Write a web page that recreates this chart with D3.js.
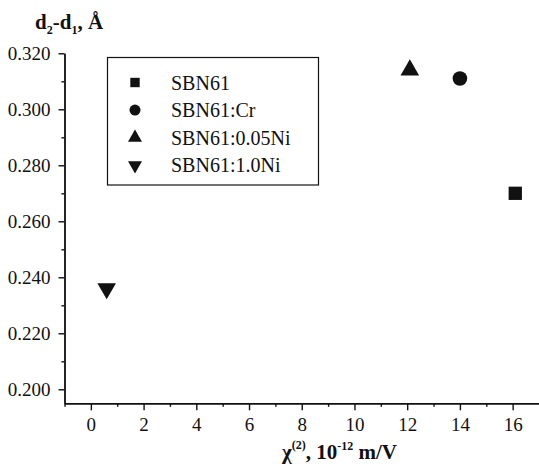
<!DOCTYPE html>
<html>
<head>
<meta charset="utf-8">
<script src="https://cdn.jsdelivr.net/npm/d3@7"></script>
<style>
  body { margin: 0; background: #fff; }
  svg text { font-family: 'Liberation Serif', 'Times New Roman', serif; }
</style>
</head>
<body>
<script>
// samples and their points: chi(2) in 10^-12 m/V, d2-d1 in Angstrom
const samples = ["SBN61", "SBN61:Cr", "SBN61:0.05Ni", "SBN61:1.0Ni"];
const chi = [16.1, 14.0, 12.1, 0.6];
const dd = [0.270, 0.311, 0.314, 0.236];
const shapes = ["square", "circle", "up", "down"];

const xTicks = [0, 2, 4, 6, 8, 10, 12, 14, 16];
const xMinor = [-1, 1, 3, 5, 7, 9, 11, 13, 15];
const yTicks = [0.200, 0.220, 0.240, 0.260, 0.280, 0.300, 0.320];
const yMinor = [0.210, 0.230, 0.250, 0.270, 0.290, 0.310];

const width = 539, height = 469;
const font = "'Liberation Serif', 'Times New Roman', serif";

const x = d3.scaleLinear().domain([-1, 17]).range([64.5, 539]);
const y = d3.scaleLinear().domain([0.195, 0.320]).range([403.3, 53.3]);

const svg = d3.select("body").append("svg")
    .attr("width", width)
    .attr("height", height)
    .attr("font-family", font);

function symbolPath(shape, size) {
  if (shape === "square") return d3.symbol(d3.symbolSquare, size)();
  if (shape === "circle") return d3.symbol(d3.symbolCircle, size)();
  return d3.symbol(d3.symbolTriangle, size)();
}

// axes
svg.append("g")
    .attr("transform", `translate(0,${y.range()[0]})`)
    .call(d3.axisBottom(x).tickValues(xTicks).tickSize(7).tickSizeOuter(0).tickPadding(7));
svg.append("g")
    .attr("transform", `translate(0,${y.range()[0]})`)
    .call(d3.axisBottom(x).tickValues(xMinor).tickSize(3.5).tickSizeOuter(0).tickFormat(""));

svg.append("g")
    .attr("transform", `translate(${x.range()[0]},0)`)
    .call(d3.axisLeft(y).tickValues(yTicks).tickSize(6).tickSizeOuter(0).tickPadding(8)
      .tickFormat(d3.format(".3f")));
svg.append("g")
    .attr("transform", `translate(${x.range()[0]},0)`)
    .call(d3.axisLeft(y).tickValues(yMinor).tickSize(3).tickSizeOuter(0).tickFormat(""));

svg.selectAll("g").attr("font-family", font);
svg.selectAll(".domain, .tick line")
    .attr("stroke", "#111")
    .attr("stroke-width", 1.4);
svg.selectAll(".tick text")
    .attr("font-size", 19)
    .attr("fill", "#111");

// points
svg.append("g").selectAll("path")
  .data(samples)
  .join("path")
    .attr("d", (d, i) => symbolPath(shapes[i], shapes[i] === "square" ? 177 : shapes[i] === "circle" ? 167 : 150))
    .attr("transform", (d, i) => `translate(${x(chi[i])},${y(dd[i])})${shapes[i] === "down" ? " rotate(180)" : ""}`)
    .attr("fill", "#111");

// legend
const legend = svg.append("g");
legend.append("rect")
    .attr("x", 107.5).attr("y", 57.5)
    .attr("width", 211).attr("height", 127.5)
    .attr("fill", "#fff")
    .attr("stroke", "#111")
    .attr("stroke-width", 1.2);
const row = legend.selectAll("g.row")
  .data(samples)
  .join("g")
    .attr("class", "row")
    .attr("transform", (d, i) => `translate(0,${82.5 + i * 27.6})`);
row.append("path")
    .attr("d", (d, i) => symbolPath(shapes[i], shapes[i] === "square" ? 88 : shapes[i] === "circle" ? 95 : 85))
    .attr("transform", (d, i) => `translate(135,0)${shapes[i] === "down" ? " rotate(180)" : ""}`)
    .attr("fill", "#111");
row.append("text")
    .attr("x", 171)
    .attr("dy", "0.35em")
    .attr("font-size", 20)
    .attr("fill", "#111")
    .text(d => d);

// axis titles
const yt = svg.append("text")
    .attr("x", 35).attr("y", 29)
    .attr("font-size", 21)
    .attr("font-weight", "bold")
    .attr("fill", "#111");
yt.append("tspan").text("d");
yt.append("tspan").attr("font-size", 12).attr("dy", 5).text("2");
yt.append("tspan").attr("dy", -5).text("-d");
yt.append("tspan").attr("font-size", 12).attr("dy", 5).text("1");
yt.append("tspan").attr("dy", -5).text(", Å");

const xt = svg.append("text")
    .attr("x", 282).attr("y", 459)
    .attr("font-size", 21)
    .attr("font-weight", "bold")
    .attr("fill", "#111");
xt.append("tspan").text("χ");
xt.append("tspan").attr("font-size", 12).attr("dy", -10).text("(2)");
xt.append("tspan").attr("dy", 10).text(", 10");
xt.append("tspan").attr("font-size", 12).attr("dy", -9).text("-12");
xt.append("tspan").attr("dy", 9).text(" m/V");
</script>
</body>
</html>
